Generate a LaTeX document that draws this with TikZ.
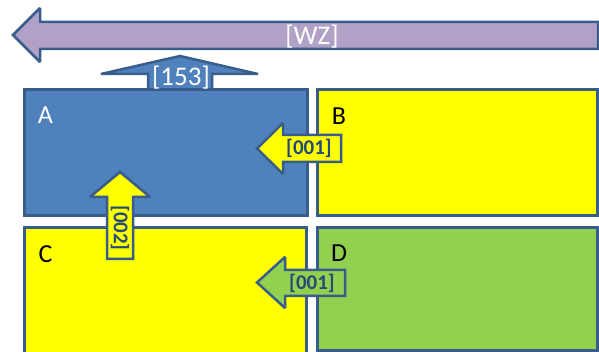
\documentclass[tikz,border=0pt]{standalone}
\usepackage{fontspec}
\setmainfont{Carlito}
\definecolor{bd}{HTML}{385D8A}
\definecolor{blueA}{HTML}{4F81BD}
\definecolor{yel}{HTML}{FFFF00}
\definecolor{grn}{HTML}{92D050}
\definecolor{purp}{HTML}{B2A1C7}
\definecolor{navy}{HTML}{254A7A}
\begin{document}
\begin{tikzpicture}[x=1pt,y=-1pt,
  box/.style={draw=bd,line width=3pt,rectangle,inner sep=0pt},
  arr/.style={draw=bd,line width=2.5pt,line join=miter,miter limit=1.5},
  big/.style={font=\fontsize{27}{27}\selectfont,text=white,inner sep=0pt},
  lbl/.style={font=\fontsize{26}{26}\selectfont,inner sep=0pt},
  num/.style={font=\bfseries\fontsize{21}{21}\selectfont,text=navy,inner sep=0pt}]
\useasboundingbox (0,0) rectangle (599,352);
\clip (0,0) rectangle (599,352);
% big arrows
\draw[arr,fill=purp] (13,35) -- (40,8) -- (40,22) -- (598,22) -- (598,49) -- (40,49) -- (40,62) -- cycle;
\draw[arr,fill=blueA] (180,56) -- (258,74) -- (212,74) -- (212,92) -- (148,92) -- (148,74) -- (101,74) -- cycle;
% boxes
\node[box,fill=blueA,minimum width=283pt,minimum height=126pt] (A) at (165.5,153) {};
\node[box,fill=yel,minimum width=280.5pt,minimum height=126pt] (B) at (457.25,153) {};
\node[box,fill=yel,minimum width=282pt,minimum height=125pt] (C) at (165,290.5) {};
\node[box,fill=grn,minimum width=280.5pt,minimum height=122.5pt] (D) at (457.25,289.25) {};
\node[lbl,text=white,anchor=base] (la) at (45.5,124) {A};
\node[lbl,anchor=base] (lb) at (339,125) {B};
\node[lbl,anchor=base] (lc) at (45.5,263) {C};
\node[lbl,anchor=base] (ld) at (339,262) {D};
% small arrows
\draw[arr,fill=yel] (257,148.5) -- (283,123) -- (283,135) -- (341,135) -- (341,162) -- (283,162) -- (283,174) -- cycle;
\draw[arr,fill=grn] (257,282.5) -- (285,257) -- (285,270) -- (345,270) -- (345,296) -- (285,296) -- (285,308) -- cycle;
\draw[arr,fill=yel] (120,172) -- (150,197) -- (133,197) -- (133,259) -- (107,259) -- (107,197) -- (90,197) -- cycle;
% labels
\node[big,anchor=base] (wz) at (312,45) {[WZ]};
\node[big,anchor=base] (n153) at (181,86) {[153]};
\node[num,anchor=base] (n1) at (309,155) {[001]};
\node[num,anchor=base] (n2) at (312,290) {[001]};
\node[num,rotate=-90] (n3) at (120,228) {[002]};
\end{tikzpicture}
\end{document}
